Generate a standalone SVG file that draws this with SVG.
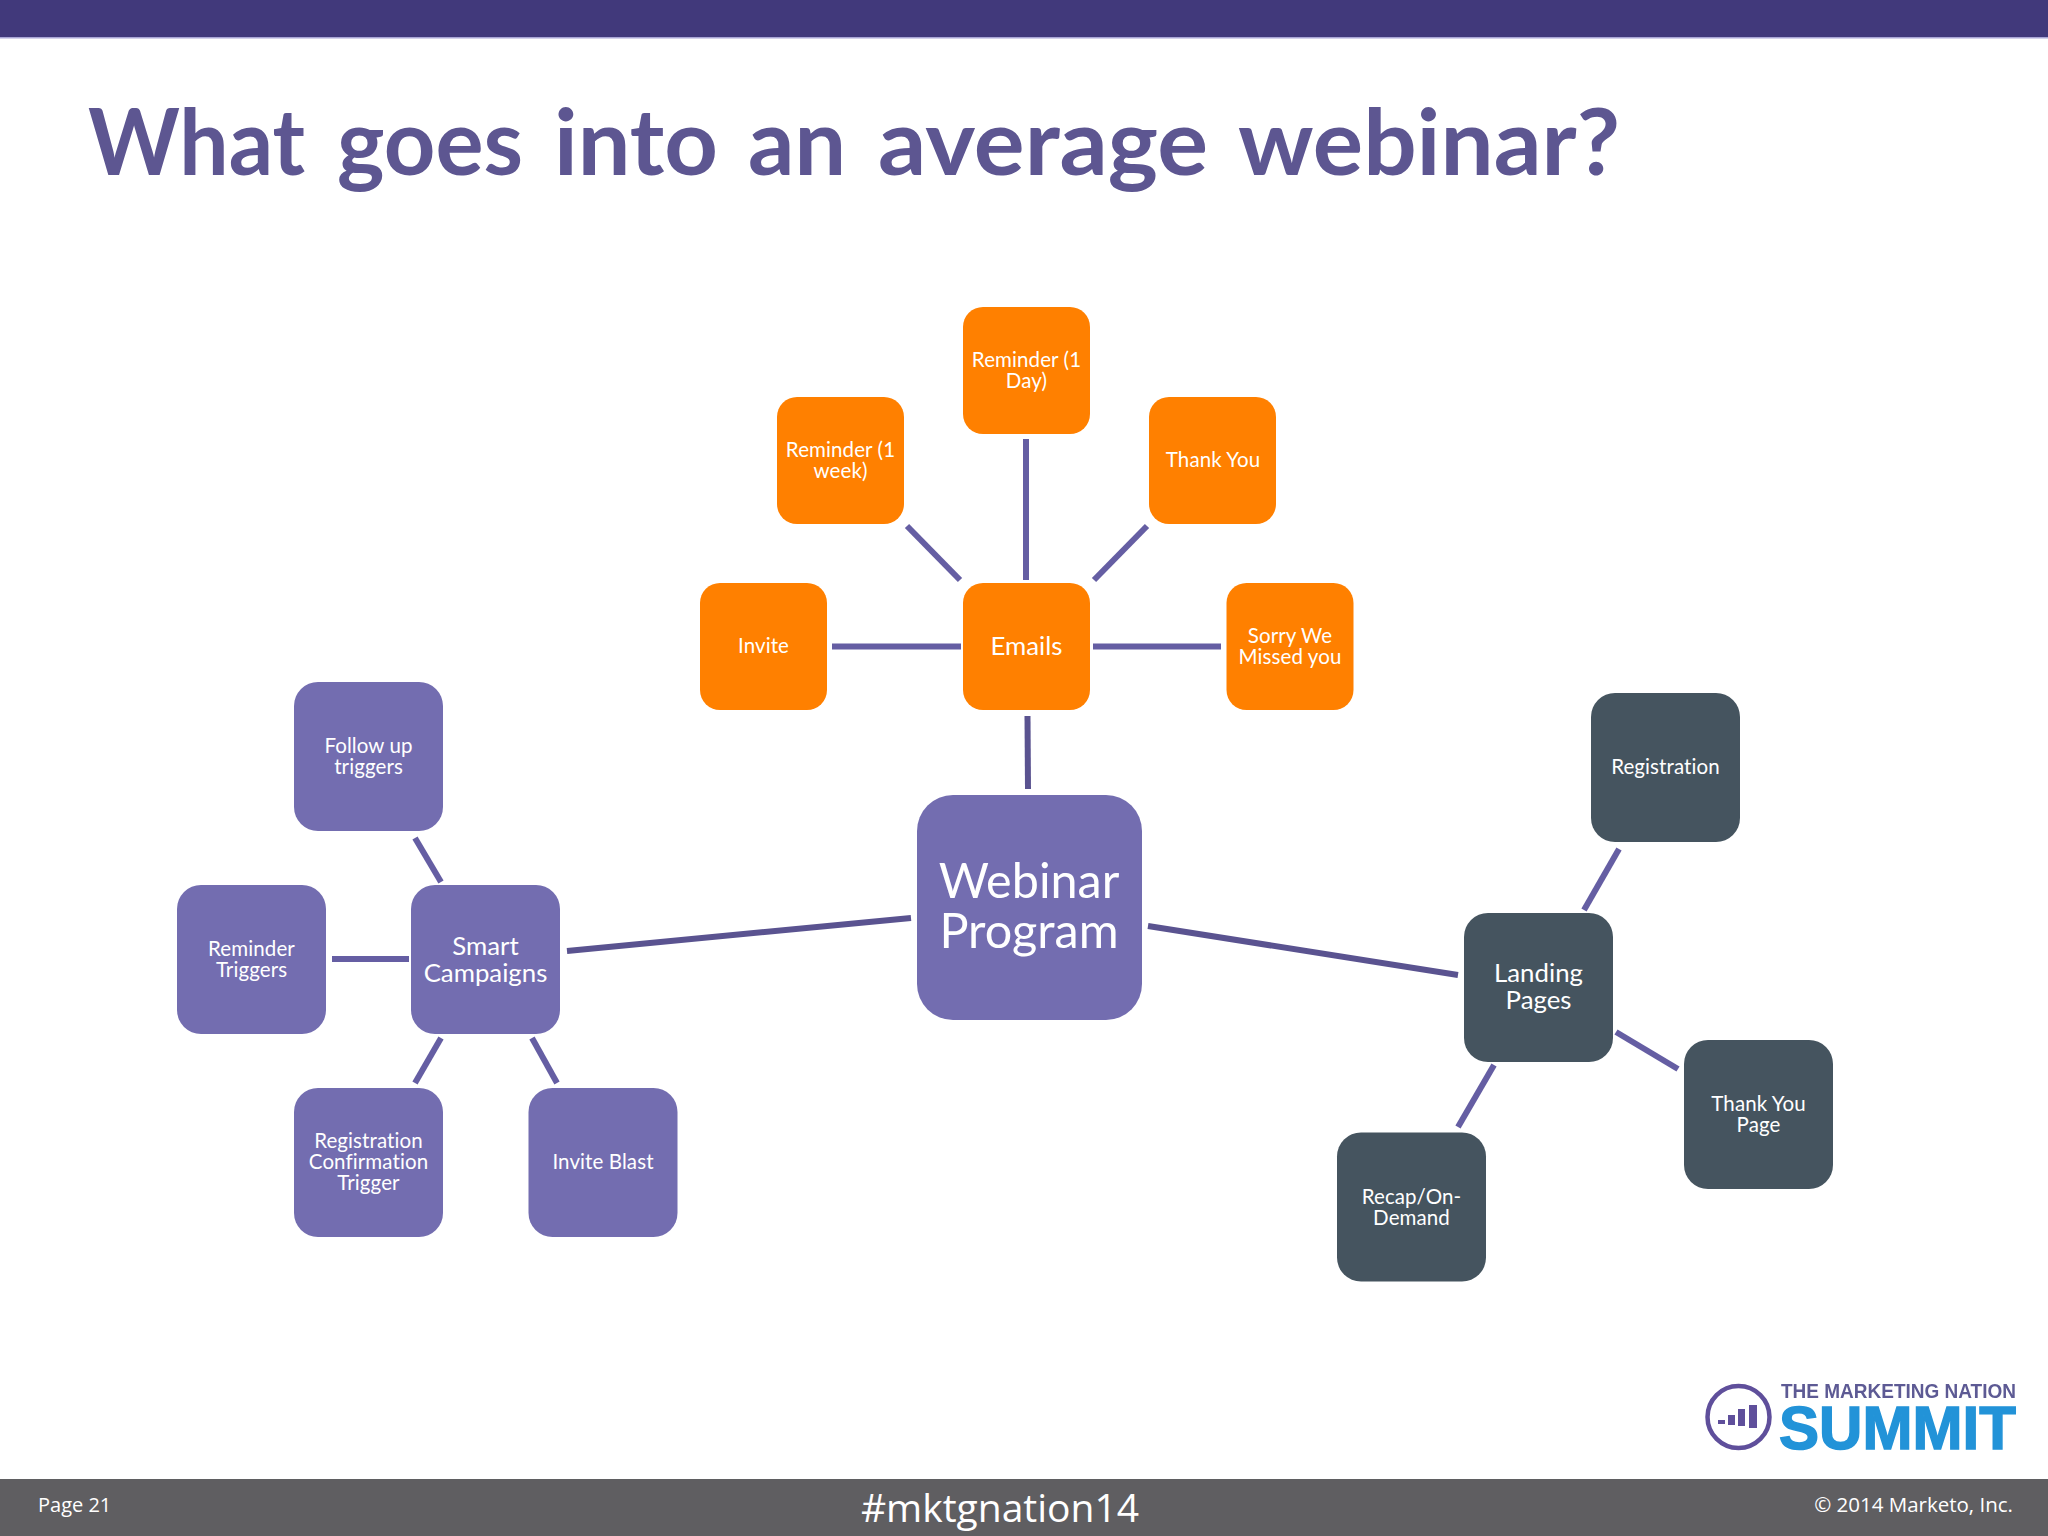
<svg xmlns="http://www.w3.org/2000/svg" width="2048" height="1536" viewBox="0 0 2048 1536">
<style>
text{font-family:"Lato","Noto Sans",sans-serif;text-anchor:middle}
.o{fill:#ff8000}.p{fill:#736db0}.d{fill:#45545f}
.t{fill:#fff;font-size:20.500px;letter-spacing:.1px}
.m{fill:#fff;font-size:25.800px}
.c{fill:#fff;font-size:48.500px}
#connectors line{stroke:#655ea3;stroke-width:6}
#connectors line.k{stroke:#5a5390}
.f{fill:#fff;font-family:"Open Sans",sans-serif}
.l{text-anchor:start;font-family:"Liberation Sans",sans-serif;font-weight:700}
</style>
<defs><filter id="soft" x="-5%" y="-5%" width="110%" height="110%"><feGaussianBlur stdDeviation=".7"/></filter></defs>
<rect width="2048" height="1536" fill="#fff"/>
<rect width="2048" height="37" fill="#41397b"/>
<rect y="37" width="2048" height="1.500" fill="#a9a6d6"/>
<text id="title" y="175" style="text-anchor:start;font-size:92px;font-weight:700;fill:#5d5691" lengthAdjust="spacingAndGlyphs"><tspan x="88" textLength="217" lengthAdjust="spacingAndGlyphs">What</tspan> <tspan x="337" textLength="186" lengthAdjust="spacingAndGlyphs">goes</tspan> <tspan x="554" textLength="164" lengthAdjust="spacingAndGlyphs">into</tspan> <tspan x="748" textLength="98" lengthAdjust="spacingAndGlyphs">an</tspan> <tspan x="878" textLength="330" lengthAdjust="spacingAndGlyphs">average</tspan> <tspan x="1238" textLength="382" lengthAdjust="spacingAndGlyphs">webinar?</tspan></text>
<g id="connectors">
<line x1="1026" y1="439" x2="1026" y2="580"/>
<line x1="907" y1="526" x2="960" y2="580"/>
<line x1="1147" y1="526" x2="1094" y2="580"/>
<line x1="832" y1="646.500" x2="961" y2="646.500"/>
<line x1="1093" y1="646.500" x2="1221" y2="646.500"/>
<line class="k" x1="1027.500" y1="716" x2="1028" y2="789"/>
<line class="k" x1="567" y1="951" x2="911" y2="918"/>
<line class="k" x1="1148" y1="926" x2="1458" y2="975"/>
<line x1="415" y1="838" x2="441" y2="882"/>
<line x1="332" y1="959" x2="409" y2="959"/>
<line x1="441" y1="1038" x2="415" y2="1083"/>
<line x1="532" y1="1038" x2="557" y2="1083"/>
<line x1="1619" y1="849" x2="1584" y2="910"/>
<line x1="1616" y1="1032" x2="1678" y2="1069"/>
<line x1="1494" y1="1065" x2="1458" y2="1127"/>
</g>
<g id="webinar"><rect class="p" x="917" y="795" width="225" height="225" rx="36"/><text class="c" x="1029" y="898">Webinar<tspan x="1029" dy="50">Program</tspan></text></g>
<g id="emails"><rect class="o" x="963" y="583" width="127" height="127" rx="20"/><text class="m" x="1026.500" y="655">Emails</text></g>
<g id="invite"><rect class="o" x="700" y="583" width="127" height="127" rx="20"/><text class="t" x="763.500" y="653">Invite</text></g>
<g id="reminder-week"><rect class="o" x="777" y="397" width="127" height="127" rx="20"/><text class="t" x="840.500" y="456.500">Reminder (1<tspan x="840.500" dy="21">week)</tspan></text></g>
<g id="reminder-day"><rect class="o" x="963" y="307" width="127" height="127" rx="20"/><text class="t" x="1026.500" y="366.500">Reminder (1<tspan x="1026.500" dy="21">Day)</tspan></text></g>
<g id="thank-you"><rect class="o" x="1149" y="397" width="127" height="127" rx="20"/><text class="t" x="1213" y="467">Thank You</text></g>
<g id="sorry"><rect class="o" x="1226.500" y="583" width="127" height="127" rx="20"/><text class="t" x="1290" y="643">Sorry We<tspan x="1290" dy="21">Missed you</tspan></text></g>
<g id="smart"><rect class="p" x="411" y="885" width="149" height="149" rx="24"/><text class="m" x="485.500" y="955">Smart<tspan x="485.500" dy="27">Campaigns</tspan></text></g>
<g id="follow"><rect class="p" x="294" y="682" width="149" height="149" rx="24"/><text class="t" x="368.500" y="753">Follow up<tspan x="368.500" dy="21">triggers</tspan></text></g>
<g id="reminder-triggers"><rect class="p" x="177" y="885" width="149" height="149" rx="24"/><text class="t" x="251.500" y="956">Reminder<tspan x="251.500" dy="21">Triggers</tspan></text></g>
<g id="reg-confirm"><rect class="p" x="294" y="1088" width="149" height="149" rx="24"/><text class="t" x="368.500" y="1148">Registration<tspan x="368.500" dy="21">Confirmation</tspan><tspan x="368.500" dy="21">Trigger</tspan></text></g>
<g id="invite-blast"><rect class="p" x="528.500" y="1088" width="149" height="149" rx="24"/><text class="t" x="603" y="1169">Invite Blast</text></g>
<g id="landing"><rect class="d" x="1464" y="913" width="149" height="149" rx="24"/><text class="m" x="1538.500" y="982">Landing<tspan x="1538.500" dy="27">Pages</tspan></text></g>
<g id="registration"><rect class="d" x="1591" y="693" width="149" height="149" rx="24"/><text class="t" x="1665.500" y="774">Registration</text></g>
<g id="thankyou-page"><rect class="d" x="1684" y="1040" width="149" height="149" rx="24"/><text class="t" x="1758.500" y="1110.500">Thank You<tspan x="1758.500" dy="21">Page</tspan></text></g>
<g id="recap"><rect class="d" x="1337" y="1132.500" width="149" height="149" rx="24"/><text class="t" x="1411.500" y="1203.500">Recap/On-<tspan x="1411.500" dy="21">Demand</tspan></text></g>
<g id="logo" filter="url(#soft)">
<circle cx="1738.500" cy="1417" r="31" fill="none" stroke="#5f4f9b" stroke-width="4.500"/>
<g fill="#5f4f9b"><rect x="1718" y="1420" width="7" height="4"/><rect x="1728" y="1415" width="7" height="10"/><rect x="1738" y="1409" width="7" height="17"/><rect x="1749" y="1405" width="8" height="23"/></g>
<text class="l" x="1781" y="1398" style="font-size:20px;fill:#5d5a94" textLength="235" lengthAdjust="spacingAndGlyphs">THE MARKETING NATION</text>
<text class="l" x="1779" y="1449" style="font-size:62px;fill:#2393d8;stroke:#2393d8;stroke-width:1.500" textLength="237" lengthAdjust="spacingAndGlyphs">SUMMIT</text>
</g>
<rect id="footer" y="1479" width="2048" height="57" fill="#5f5e61"/>
<text class="f" x="38" y="1512" style="text-anchor:start;font-size:20px">Page 21</text>
<text class="f" x="1000" y="1522" style="font-size:39px">#mktgnation14</text>
<text class="f" x="2013" y="1512" style="text-anchor:end;font-size:20.500px">© 2014 Marketo, Inc.</text>
</svg>
